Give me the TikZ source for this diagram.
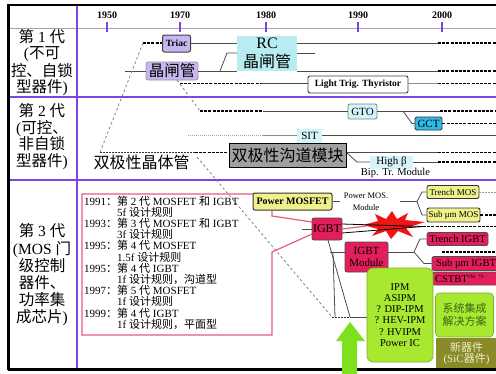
\documentclass[tikz,border=0pt]{standalone}
\usepackage{fontspec}
\setmainfont{Liberation Serif}
\newfontfamily\cjk{Noto Sans CJK SC}
\newcommand\zhs[1]{{\cjk #1}}
\definecolor{vio}{RGB}{125,70,225}
\definecolor{lav}{RGB}{200,182,240}
\definecolor{rccyan}{RGB}{185,236,240}
\definecolor{lcyan}{RGB}{212,244,250}
\definecolor{gctblue}{RGB}{50,185,232}
\definecolor{bcmgray}{RGB}{160,160,160}
\definecolor{ylw}{RGB}{240,240,140}
\definecolor{crim}{RGB}{228,30,90}
\definecolor{lgreen}{RGB}{168,232,48}
\definecolor{dgreen}{RGB}{60,100,20}
\definecolor{olive}{RGB}{138,138,40}
\definecolor{oltext}{RGB}{238,238,205}
\definecolor{agreen}{RGB}{125,225,30}
\definecolor{pinkline}{RGB}{232,90,128}
\definecolor{burstred}{RGB}{240,20,20}
\begin{document}
\begin{tikzpicture}[x=1pt,y=-1pt,
  lin/.style={draw=black!70, line width=0.8pt},
  dsh/.style={draw=black, line width=1.4pt, dash pattern=on 3pt off 1.2pt},
  gdsh/.style={draw=black!50, line width=0.8pt, dash pattern=on 2.5pt off 2.5pt},
  bdot/.style={draw=black!80, line width=0.8pt, dash pattern=on 1.5pt off 1.5pt},
  purp/.style={draw=vio, line width=1.1pt},
  pinkl/.style={draw=pinkline, line width=1.2pt},
  yrlab/.style={font=\bfseries\fontsize{10}{10}\selectfont, inner sep=0pt},
  rowlab/.style={align=center, inner sep=0pt},
  bx/.style={inner sep=0pt, align=center},
  lavb/.style={bx, draw=black!75, fill=lav, rounded corners=2pt, line width=1pt, font=\bfseries\fontsize{9.5}{10}\selectfont},
  lavbb/.style={bx, draw=black!40, fill=lav, rounded corners=2pt, line width=0.8pt, font=\fontsize{15.5}{16}\selectfont},
  rcb/.style={bx, fill=rccyan, minimum width=60pt, minimum height=35pt, font=\fontsize{16}{19}\selectfont},
  ltb/.style={bx, draw=black!75, fill=white, rounded corners=2pt, line width=0.9pt, minimum width=100pt, minimum height=17pt, font=\bfseries\fontsize{9.5}{10}\selectfont},
  gtob/.style={bx, draw=black!50, fill=lcyan, rounded corners=2pt, line width=0.8pt, minimum width=29pt, minimum height=15pt, font=\fontsize{11}{11}\selectfont},
  gctb/.style={bx, draw=black!80, fill=gctblue, rounded corners=1.5pt, line width=0.8pt, minimum width=27pt, minimum height=13pt, font=\fontsize{11}{11}\selectfont},
  lab/.style={bx, fill=lcyan, font=\fontsize{11}{11}\selectfont},
  bcmb/.style={bx, draw=black, fill=bcmgray, line width=1pt, minimum width=117pt, minimum height=24pt, font=\fontsize{16}{16}\selectfont},
  pmb/.style={bx, draw=black!80, fill=ylw, rounded corners=2pt, line width=1pt, minimum width=79pt, minimum height=17pt, font=\bfseries\fontsize{10}{10}\selectfont},
  ylb/.style={bx, draw=black!80, fill=ylw, rounded corners=2pt, line width=0.9pt, font=\fontsize{9}{9}\selectfont},
  crb/.style={bx, draw=black!70, fill=crim, rounded corners=2pt, line width=0.8pt, font=\fontsize{10.5}{11}\selectfont},
  gbox/.style={bx, draw=lgreen!75!black, fill=lgreen, rounded corners=6pt, line width=0.6pt},
]
\useasboundingbox (0,0) rectangle (496,373);
\fill[white] (0,0) rectangle (496,373);

% ---- frame and grid
\draw[gray!70, line width=1pt] (9,28) -- (496,28);
\draw[purp] (77,5) -- (77,369);
\draw[purp] (9,97) -- (496,97);
\draw[purp] (9,180) -- (496,180);
\draw[line width=2.2pt] (8.5,370) -- (8.5,5) -- (496,5);

% ---- years
\foreach \yr/\xx in {1950/107,1970/180,1980/266,1990/358,2000/442}{
  \node[yrlab] (y\yr) at (\xx,15) {\yr};
  \draw[purp] (\xx,21.5) -- (\xx,31.5);
}

% ---- row labels
\node[rowlab, font=\fontsize{15.5}{16.3}\selectfont] (r1) at (42,62.5)
  {\zhs{第} 1 \zhs{代}\\(\zhs{不可}\\\zhs{控、自锁}\\\zhs{型器件})};
\node[rowlab, font=\fontsize{15.5}{16.6}\selectfont] (r2) at (42,136.5)
  {\zhs{第} 2 \zhs{代}\\(\zhs{可控、}\\\zhs{非自锁}\\\zhs{型器件})};
\node[rowlab, font=\fontsize{15.5}{17.2}\selectfont] (r3) at (42,275)
  {\zhs{第} 3 \zhs{代}\\(MOS \zhs{门}\\\zhs{级控制}\\\zhs{器件、}\\\zhs{功率集}\\\zhs{成芯片})};

% ---- row 1
\coordinate (tA) at (143,43);
\node[lavb, minimum width=28pt, minimum height=17pt] (triac) at (176.5,43.5) {Triac};
\draw[dsh] (tA) -- (triac.west |- tA);
\node[rcb] (rc) at (267,53.5) {RC\\\zhs{晶闸管}};
\draw[lin] (triac.east |- tA) -- (rc.west |- tA);
\coordinate (tB) at (438,43); \coordinate (tC) at (496,43);
\draw[lin] (rc.east |- tA) -- (tB);
\draw[dsh] (tB) -- (tC);

\coordinate (sA) at (125,71);
\node[lavbb, minimum width=52pt, minimum height=18pt] (thy) at (172,71) {\zhs{晶闸管}};
\draw[lin] (sA) -- (thy.west);
\draw[lin] (thy.east) -- (rc.west |- thy.east);
\coordinate (sB) at (220,71); \coordinate (sC) at (227,53);
\draw[lin] (sB) -- (sC) -- (rc.west |- sC);
\coordinate (sD) at (315,53);
\draw[lin] (rc.east |- sC) -- (sD);
\coordinate (sE) at (438,71); \coordinate (sF) at (496,71);
\draw[lin] (rc.east |- sA) -- (sE);
\draw[dsh] (sE) -- (sF);

\coordinate (lA) at (180,83.5); \coordinate (lB) at (262,83.5);
\node[ltb] (ltt) at (358,84.5) {Light Trig. Thyristor};
\draw[dsh] (lA) -- (lB);
\draw[lin] (lB) -- (ltt.west |- lB);
\coordinate (lC) at (438,83.5); \coordinate (lD) at (496,83.5);
\draw[lin, draw=black!45] (ltt.east |- lB) -- (lC);
\draw[dsh] (lC) -- (lD);

% ---- row 2
\coordinate (bA) at (100,152.5);
\draw[gdsh] (tA) -- (bA);
\coordinate (gA) at (177,80); \coordinate (gB) at (200,111);
\draw[gdsh] (gA) -- (gB);
\coordinate (gC) at (263,111);
\node[gtob] (gto) at (362.5,111.5) {GTO};
\draw[dsh] (gB) -- (gC);
\draw[lin] (gC) -- (gto.west |- gC);
\coordinate (gD) at (440,111); \coordinate (gE) at (496,111);
\draw[lin] (gto.east |- gC) -- (gD);
\draw[dsh] (gD) -- (gE);
\coordinate (gF) at (403,111); \coordinate (gG) at (412,123.5);
\node[gctb] (gct) at (428.5,123.5) {GCT};
\draw[lin] (gF) -- (gG) -- (gct.west);
\coordinate (gH) at (496,123.5);
\draw[dsh] (gct.east) -- (gH);

\coordinate (iA) at (188,135); \coordinate (iB) at (263,135);
\node[lab, minimum width=25pt, minimum height=14pt] (sit) at (309.5,136) {SIT};
\draw[draw=black!35, line width=0.8pt, dash pattern=on 1pt off 1pt] (iA) -- (iB);
\draw[draw=black!45, line width=1pt] (iB) -- (sit.west |- iB);
\coordinate (iC) at (496,135);
\draw[lin] (sit.east |- iB) -- (iC);

\node[inner sep=0pt, font=\fontsize{16}{16}\selectfont] (bjt) at (141.5,162) {\zhs{双极性晶体管}};
\coordinate (bB) at (195,152.5);
\node[bcmb] (bcm) at (287.5,155) {\zhs{双极性沟道模块}};
\draw[bdot] (bA) -- (bB);
\draw[dsh] (bB) -- (bcm.west |- bB);
\coordinate (bC) at (438,152.5); \coordinate (bD) at (496,152.5);
\draw[lin] (bcm.east |- bB) -- (bC);
\draw[dsh] (bC) -- (bD);
\coordinate (hA) at (347,153); \coordinate (hB) at (357,162);
\node[lab, minimum width=43pt, minimum height=13pt] (hb) at (391.5,162) {High β};
\draw[lin] (hA) -- (hB) -- (hb.west);
\coordinate (hC) at (438,162); \coordinate (hD) at (496,162);
\draw[lin] (hb.east) -- (hC);
\draw[dsh] (hC) -- (hD);
\node[inner sep=0pt, font=\fontsize{10.5}{11}\selectfont] (bip) at (395.5,172.5) {Bip. Tr. Module};

\coordinate (dA) at (197,157); \coordinate (dB) at (332,317);
\draw[gdsh] (dA) -- (dB);

% ---- row 3
\node[pmb] (pm) at (292.5,201.5) {Power MOSFET};
\node[crb, minimum width=30pt, minimum height=22pt, font=\fontsize{12}{12}\selectfont] (ig) at (327,229) {IGBT};
\coordinate (pA) at (82,194); \coordinate (pB) at (82,335);
\coordinate (pC) at (272,335); \coordinate (pD) at (272,252);
\coordinate (pE) at (312,234);
\draw[pinkl] (pm.west |- pA) -- (pA) -- (pB) -- (pC) -- (pD) -- (pE);
\coordinate (pG) at (272,216); \coordinate (pH) at (312,222);
\draw[pinkl] (pm.south -| pG) -- (pG) -- (pH);

\node[anchor=north west, inner sep=0pt, align=left, font=\fontsize{11}{11.2}\selectfont] (ptx) at (84,195.5)
 {1991\zhs{：第} 2 \zhs{代} MOSFET \zhs{和} IGBT\\
  \hspace*{33pt}5f \zhs{设计规则}\\
  1993\zhs{：第} 3 \zhs{代} MOSFET \zhs{和} IGBT\\
  \hspace*{33pt}3f \zhs{设计规则}\\
  1995\zhs{：第} 4 \zhs{代} MOSFET\\
  \hspace*{33pt}1.5f \zhs{设计规则}\\
  1995\zhs{：第} 4 \zhs{代} IGBT\\
  \hspace*{33pt}1f \zhs{设计规则，沟道型}\\
  1997\zhs{：第} 5 \zhs{代} MOSFET\\
  \hspace*{33pt}1f \zhs{设计规则}\\
  1999\zhs{：第} 4 \zhs{代} IGBT\\
  \hspace*{33pt}1f \zhs{设计规则，平面型}};

\coordinate (qA) at (302,229);
\draw[lin] (qA) -- (ig.west);
\fill[burstred] (363,225) -- (378,221) -- (375,214) -- (386,219) -- (392,211) -- (397,219) -- (408,213) -- (405,220) -- (425,222) -- (406,228) -- (413,237) -- (398,231) -- (391,239) -- (386,231) -- (372,236) -- (378,229) -- cycle;
\coordinate (qB) at (342,224); \coordinate (qC) at (342,233); \coordinate (qD) at (423,226.5);
\draw[pinkl] (ig.east) -- (366,226);
\draw[lin, draw=black] (qB) -- (qD);
\draw[lin, draw=black] (qC) -- (qD);
\coordinate (qE) at (496,226.5);
\draw[dsh] (qD) -- (qE);

\coordinate (mA) at (340,201.5);
\draw[lin] (pm.east) -- (mA);
\node[inner sep=0pt, align=center, font=\fontsize{8.5}{12}\selectfont] (pmm) at (366,201.5) {Power MOS.\\Module};
\coordinate (mB) at (400,201.5); \coordinate (mC) at (417,201.5);
\draw[lin] (mB) -- (mC);
\node[ylb, minimum width=52pt, minimum height=13pt] (tmos) at (453,192) {Trench MOS};
\node[ylb, minimum width=53pt, minimum height=14pt] (smos) at (453.5,215) {Sub μm MOS};
\coordinate (mD) at (422,192); \coordinate (mE) at (422,215);
\draw[lin] (mC) -- (mD) -- (tmos.west);
\draw[lin] (mC) -- (mE) -- (smos.west);
\coordinate (mF) at (496,192); \coordinate (mG) at (496,215);
\draw[bdot, draw=black!40] (tmos.east) -- (mF);
\draw[dsh] (smos.east) -- (mG);

\node[crb, minimum width=43pt, minimum height=30pt, font=\fontsize{11}{12}\selectfont] (igm) at (366.5,257) {IGBT\\Module};
\coordinate (nA) at (330,252);
\draw[lin] (nA) -- (igm.west |- nA);
\coordinate (nB) at (414,252);
\draw[lin] (igm.east |- nA) -- (nB);
\node[crb, minimum width=61pt, minimum height=13pt] (tigbt) at (457.5,239) {Trench IGBT};
\node[crb, minimum width=68pt, minimum height=14pt] (sigbt) at (466,263.5) {Sub μm IGBT};
\coordinate (nC) at (420,239); \coordinate (nD) at (424,263.5);
\draw[lin] (nB) -- (nC) -- (tigbt.west);
\draw[lin] (nB) -- (nD) -- (sigbt.west);
\coordinate (nE) at (442,252); \coordinate (nF) at (496,252);
\draw[dsh] (nE) -- (nF);
\node[crb, minimum width=0pt, text width=64pt, align=left, inner xsep=2pt, minimum height=13pt, font=\fontsize{10.5}{11}\selectfont] (cst) at (467,278.5) {CSTBT\textsuperscript{\fontsize{5}{5}\selectfont TM *5}};

\coordinate (oA) at (328,240); \coordinate (oB) at (350,317);
\draw[lin] (oA) -- (oB);
\coordinate (oC) at (333,253); \coordinate (oD) at (335,317);
\draw[lin] (oC) -- (oD);
\node[gbox, minimum width=66pt, minimum height=94pt, font=\fontsize{10.5}{11.2}\selectfont] (gb) at (400,315)
 {IPM\\ASIPM\\? DIP-IPM\\? HEV-IPM\\? HVIPM\\Power IC};
\draw[bdot] (dB) -- (oB);
\draw[lin] (oB) -- (gb.west |- oB);
\node[gbox, rounded corners=4pt, minimum width=58pt, minimum height=44pt, text=dgreen, font=\fontsize{11}{12.5}\selectfont] (sys) at (464.5,315) {\zhs{系统集成}\\\zhs{解决方案}};
\node[bx, fill=olive, minimum width=61pt, minimum height=32pt, text=oltext, font=\fontsize{11}{11}\selectfont] (newd) at (466.5,354) {\zhs{新器件}\\(SiC\zhs{器件})};

% ---- bottom border and arrow
\draw[line width=3pt] (7.5,369.5) -- (496,369.5);
\fill[agreen] (342,374) -- (342,341) -- (336,341) -- (350,322) -- (365,341) -- (357,341) -- (357,374) -- cycle;
\end{tikzpicture}
\end{document}
